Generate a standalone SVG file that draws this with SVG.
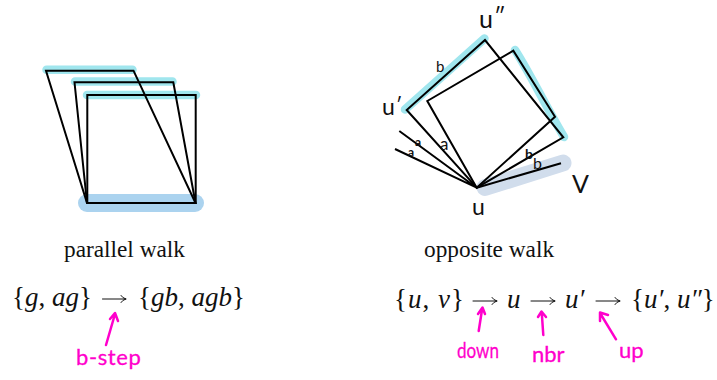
<svg xmlns="http://www.w3.org/2000/svg" width="717" height="380" viewBox="0 0 717 380">
<style>
.hc{fill:none;stroke:#a0e6ee;stroke-width:8.500;stroke-linecap:round;stroke-linejoin:round}
.hb{fill:none;stroke-linecap:round;stroke:#abd3ef;stroke-width:18}
.hg{fill:none;stroke-linecap:round;stroke:#d1ddec;stroke-width:17}
.k{fill:none;stroke:#000;stroke-width:2;stroke-linejoin:miter}
.p{fill:none;stroke:#ff00cc;stroke-width:2.500;stroke-linecap:round;stroke-linejoin:round}
.m{fill:none;stroke:#111;stroke-width:1;stroke-linecap:round;stroke-linejoin:round}
.cap{font-family:"Liberation Serif",serif;font-size:23.300px;fill:#111}
.math{font-family:"Liberation Serif",serif;font-size:27px;fill:#111}
.i{font-style:italic}
.hw{font-family:"Lato","Noto Sans",sans-serif;fill:#111}
.pk{font-family:"Lato","Noto Sans",sans-serif;fill:#ff00cc;font-size:22px;stroke:#ff00cc;stroke-width:.3}
</style>
<g id="parallel-highlights">
<path class="hb" d="M87 203H195"/>
<path class="hc" d="M46.500 69.700H132.500M75 81.500H172.500M87 95H196"/>
</g>
<g id="parallel-squares">
<path class="k" d="M87 203L46 70.700H133.500L195.500 203Z"/>
<path class="k" d="M87 203L74.500 82.300H173.300L195.500 203"/>
<path class="k" d="M87.300 203V95H195.700V203Z"/>
</g>
<g id="opposite-highlights">
<path class="hg" d="M485 187.500L563 163"/>
<path class="hc" d="M405 109.500L484.500 38.500"/>
<path class="hc" d="M515 50C531 75 545 105 564 137"/>
</g>
<g id="opposite-squares">
<path class="k" d="M476.700 187.700L406.700 110L485 40L563.300 137.300Z"/>
<path class="k" d="M476.700 187.700L427.300 101L513.300 50.700L555 116.700Z"/>
<path class="k" d="M476.700 187.700L399.300 131M476.700 187.700L395 149M476.700 187.700L561 163.300"/>
</g>
<g id="opposite-labels">
<text class="hw" x="479" y="28" font-size="25">u<tspan font-size="22" dy="-5" dx="1">″</tspan></text>
<text class="hw" x="382" y="115" font-size="23">u<tspan font-size="20" dy="-3" dx="1">′</tspan></text>
<text class="hw" x="472" y="215" font-size="23">u</text>
<text class="hw" x="572" y="193" font-size="25">V</text>
<text class="hw" x="436" y="72" font-size="15">b</text>
<text class="hw" x="440" y="150" font-size="17">a</text>
<text class="hw" x="415" y="146" font-size="12" font-weight="700">a</text>
<text class="hw" x="408" y="156" font-size="12" font-weight="700">a</text>
<text class="hw" x="525" y="159" font-size="14" font-weight="700">b</text>
<text class="hw" x="533" y="169" font-size="16">b</text>
</g>
<g id="captions">
<text class="cap" x="64" y="257">parallel walk</text>
<text class="cap" x="424" y="257">opposite walk</text>
</g>
<g id="math-parallel">
<text class="math" x="12" y="306">{<tspan class="i">g</tspan>, <tspan class="i">ag</tspan>}</text>
<text class="math" x="138" y="306">{<tspan class="i">gb</tspan>, <tspan class="i">agb</tspan>}</text>
</g>
<g id="math-opposite">
<text class="math" x="394" y="308" letter-spacing="1">{<tspan class="i">u</tspan>, <tspan class="i">v</tspan>}</text>
<text class="math i" x="507" y="308">u</text>
<text class="math i" x="565" y="308">u′</text>
<text class="math" x="631" y="308">{<tspan class="i">u′</tspan>, <tspan class="i">u″</tspan>}</text>
</g>
<g id="connectors">
<path class="m" d="M102.500 299H126M121 295.500Q122.500 298 126 299Q122.500 300 121 302.500"/>
<path class="m" d="M473 301H497M492 297.500Q493.500 300 497 301Q493.500 302 492 304.500"/>
<path class="m" d="M531 301H555M550 297.500Q551.500 300 555 301Q551.500 302 550 304.500"/>
<path class="m" d="M596 301H620M615 297.500Q616.500 300 620 301Q616.500 302 615 304.500"/>
<path class="p" d="M106 345L115 314M110 319L115 313L118 321"/>
<path class="p" d="M478.700 331L482.300 308M478 314L482.500 307.500L485 314"/>
<path class="p" d="M543.300 335L541.700 312M538 317L541.500 311.500L546 317"/>
<path class="p" d="M616 339.300L600 313M600 321L600 312.500L608 315"/>
</g>
<g id="pink-labels">
<text class="pk" x="76" y="365" letter-spacing="0.600">b-step</text>
<text class="pk" x="457" y="358" textLength="42" lengthAdjust="spacingAndGlyphs">down</text>
<text class="pk" x="532" y="362">nbr</text>
<text class="pk" x="619" y="358">up</text>
</g>
</svg>
